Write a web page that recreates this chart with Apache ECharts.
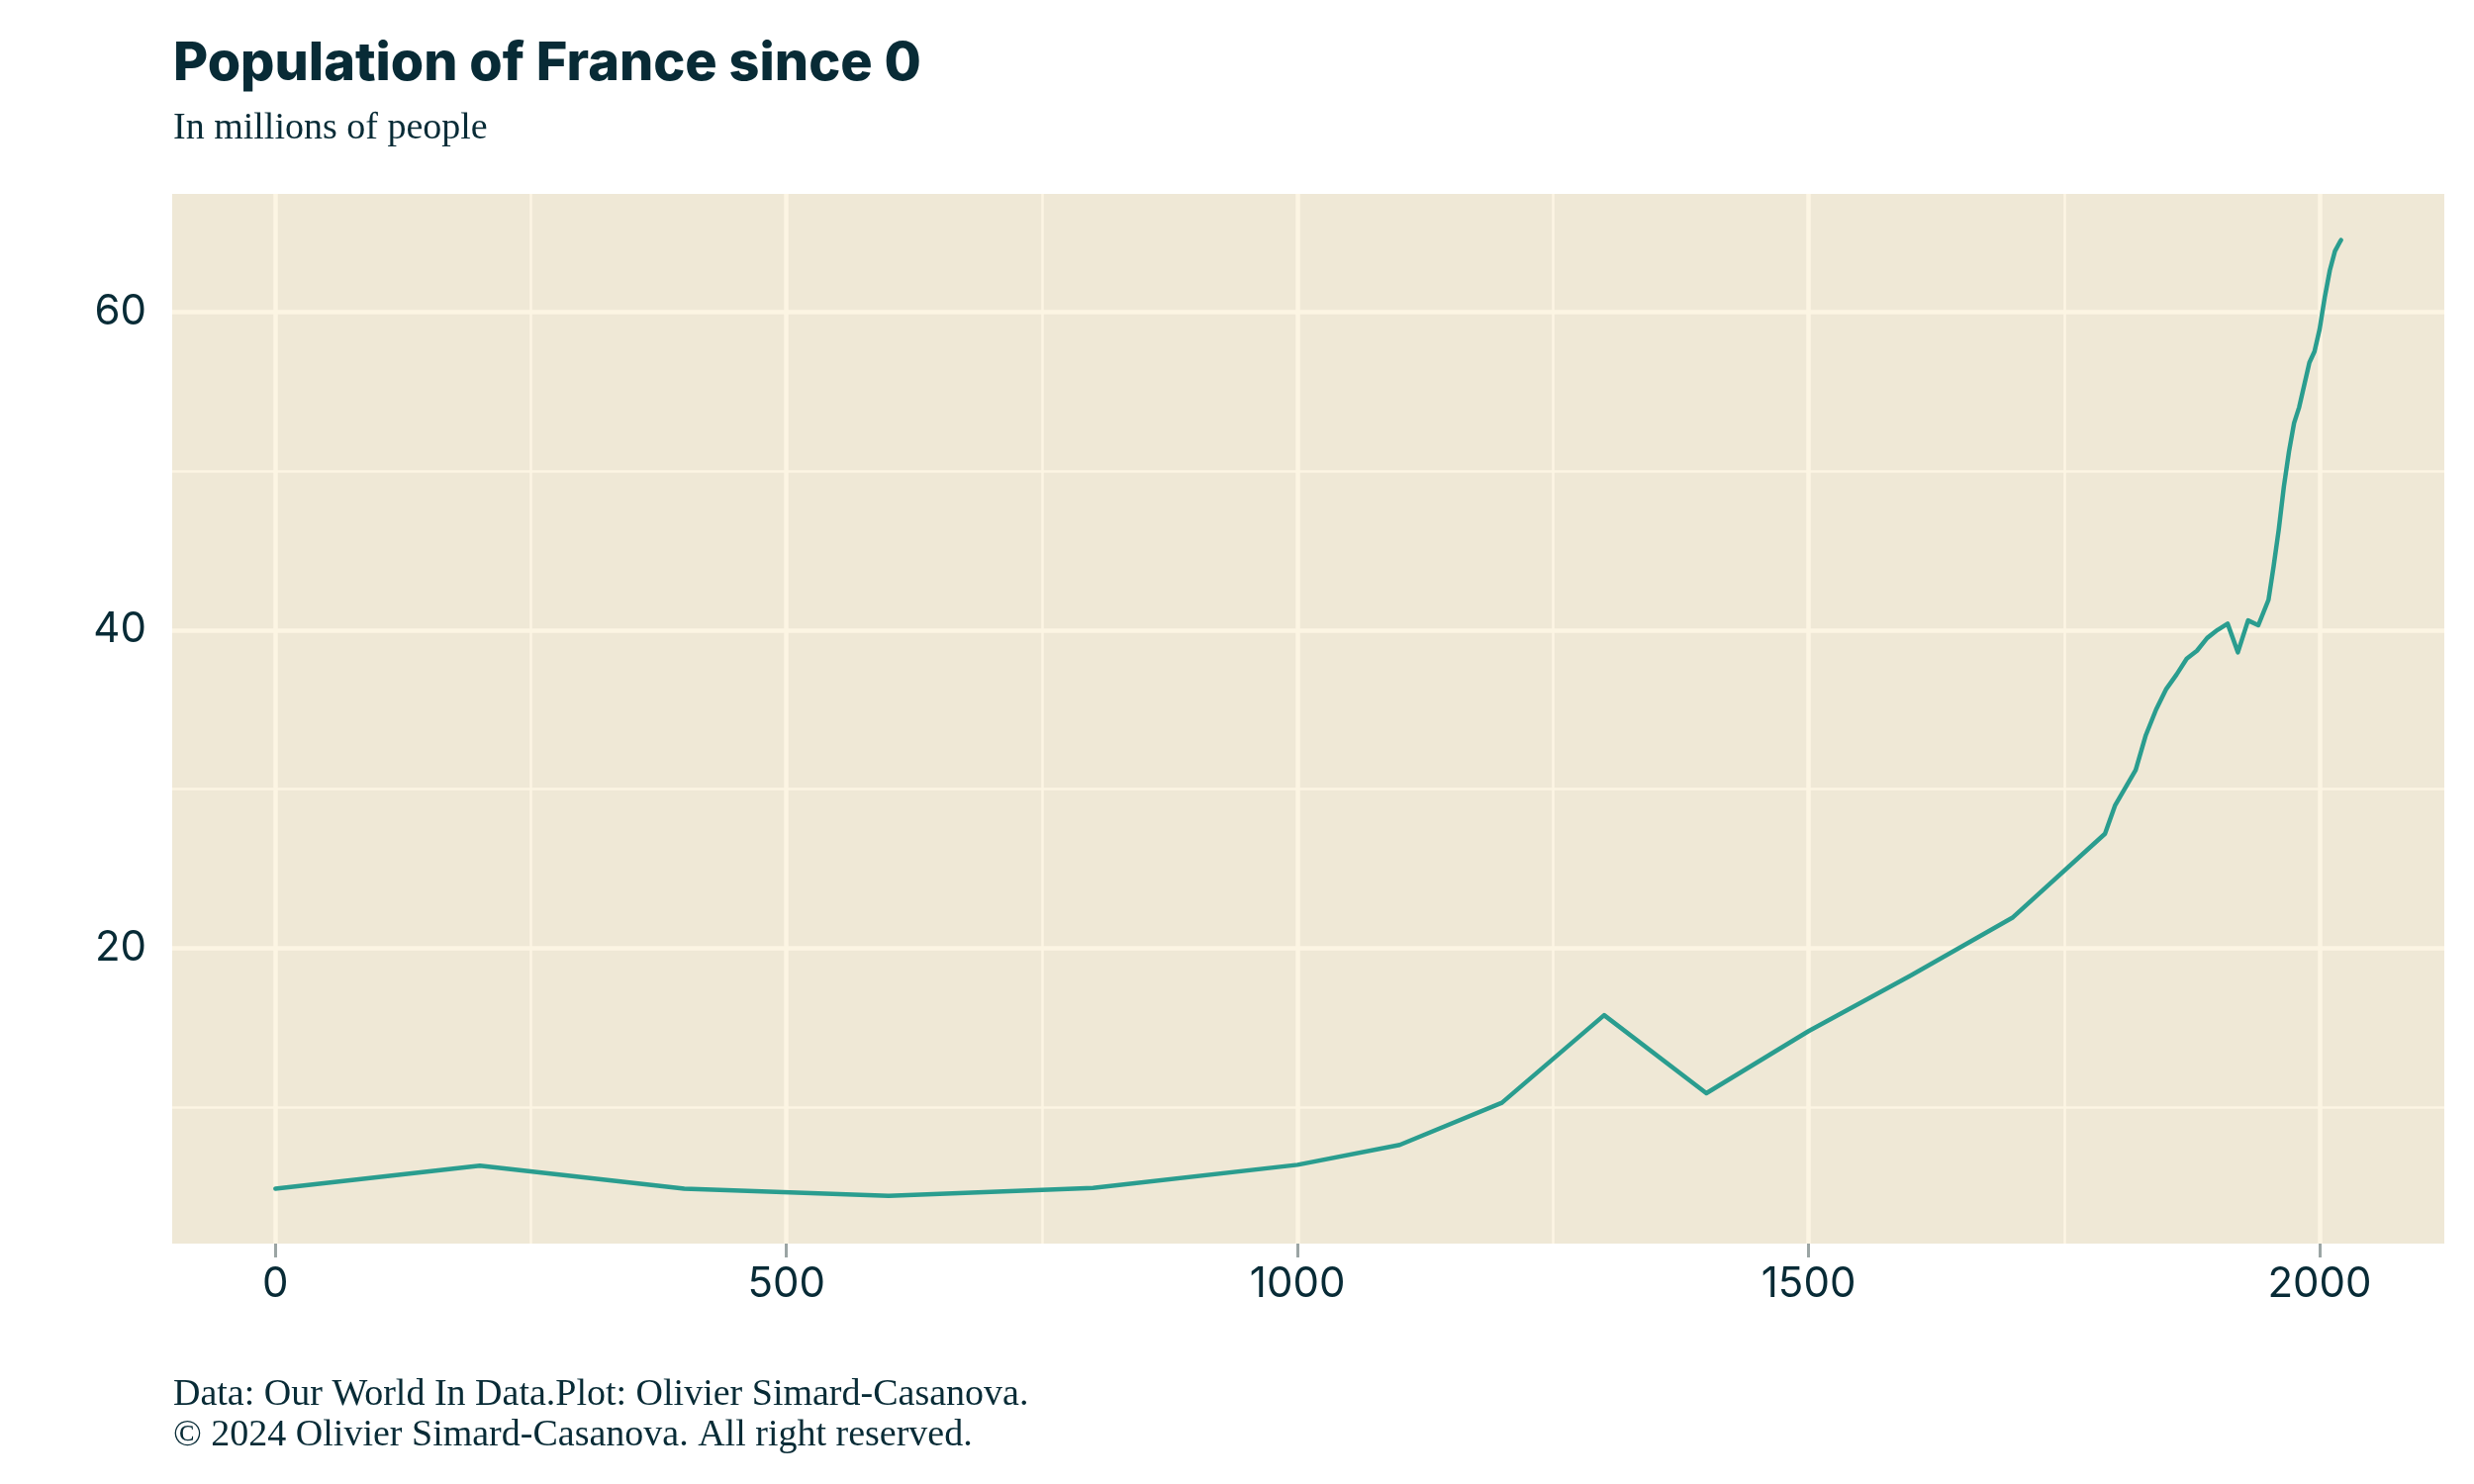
<!DOCTYPE html>
<html>
<head>
<meta charset="utf-8">
<script src="https://cdn.jsdelivr.net/npm/echarts@6/dist/echarts.min.js"></script>
<style>
html,body{margin:0;padding:0;background:#fff;}
#chart{width:2500px;height:1500px;}
</style>
</head>
<body>
<div id="chart"></div>
<script>
const years = [0,200,400,600,800,1000,1100,1200,1300,1400,1500,1600,1700,1790,1800,1810,1820,1830,1840,1850,1860,1870,1880,1890,1900,1910,1920,1930,1940,1950,1955,1960,1965,1970,1975,1980,1985,1990,1995,2000,2005,2010,2015,2020,2021];
const population = [4.9,6.35,4.9,4.45,4.95,6.4,7.65,10.3,15.8,10.9,14.8,18.3,21.95,27.2,29.0,30.1,31.2,33.4,35.0,36.3,37.2,38.2,38.7,39.5,40.0,40.4,38.6,40.6,40.3,41.9,44.0,46.3,49.0,51.2,53.0,54.0,55.4,56.8,57.5,58.9,60.9,62.6,63.8,64.4,64.5];
const xTicks = [0,500,1000,1500,2000];
const xMinor = [250,750,1250,1750];
const yTicks = [20,40,60];
const yMinor = [10,30,50];
const titleText = 'Population of France since 0';
const subtitleText = 'In millions of people';
const captionLines = ['Data: Our World In Data.Plot: Olivier Simard-Casanova.', '\u00A9 2024 Olivier Simard-Casanova. All right reserved.'];

const pts = years.map((y,i)=>[y,population[i]]);
const chart = echarts.init(document.getElementById('chart'), null, {renderer:'canvas'});
const gridCol = '#FCF5E3';
function ml(list, key, w){
  return {
    silent:true, symbol:['none','none'], z:1, animation:false,
    label:{show:false},
    lineStyle:{color:gridCol, width:w, type:'solid'},
    emphasis:{disabled:true},
    data:list.map(v=>({[key]:v}))
  };
}
chart.setOption({
  animation:false,
  backgroundColor:'#ffffff',
  textStyle:{fontFamily:'Inter'},
  graphic:[
    {type:'text', left:175, top:38, style:{text:titleText, font:'800 54px Inter', fill:'#082B36'}},
    {type:'text', left:175, top:111, style:{text:subtitleText, font:'38px "Liberation Serif"', fill:'#082B36'}},
    {type:'text', left:175, top:1390, style:{text:captionLines.join('\n'), font:'38px "Liberation Serif"', fill:'#082B36', lineHeight:41}}
  ],
  grid:{left:174, right:30, top:196, bottom:243, show:true, backgroundColor:'#EFE8D6', borderWidth:0},
  xAxis:{
    type:'value', min:-101, max:2122,
    axisLine:{show:false},
    splitLine:{show:false},
    axisTick:{show:true, length:14, customValues:xTicks, lineStyle:{color:'#9BA5A4', width:3}},
    axisLabel:{show:true, customValues:xTicks, margin:20, color:'#082B36', fontSize:42, fontFamily:'Inter', formatter:v=>String(v)}
  },
  yAxis:{
    type:'value', min:1.45, max:67.4,
    axisLine:{show:false},
    splitLine:{show:false},
    axisTick:{show:true, length:14, customValues:yTicks, lineStyle:{color:'#9BA5A4', width:3}},
    axisLabel:{show:true, customValues:yTicks, margin:26, color:'#082B36', fontSize:42, fontFamily:'Inter', formatter:v=>String(v)}
  },
  series:[
    {type:'line', data:pts, z:1, symbol:'none', silent:true, lineStyle:{opacity:0}, markLine:ml(xMinor,'xAxis',2.5)},
    {type:'line', data:pts, z:1, symbol:'none', silent:true, lineStyle:{opacity:0}, markLine:ml(yMinor,'yAxis',2.5)},
    {type:'line', data:pts, z:1, symbol:'none', silent:true, lineStyle:{opacity:0}, markLine:ml(xTicks,'xAxis',4.5)},
    {type:'line', data:pts, z:1, symbol:'none', silent:true, lineStyle:{opacity:0}, markLine:ml(yTicks,'yAxis',4.5)},
    {type:'line', data:pts, z:10, symbol:'none', smooth:false,
     lineStyle:{color:'#2A9D8F', width:4.5, join:'round', cap:'round'}}
  ]
});
</script>
</body>
</html>
